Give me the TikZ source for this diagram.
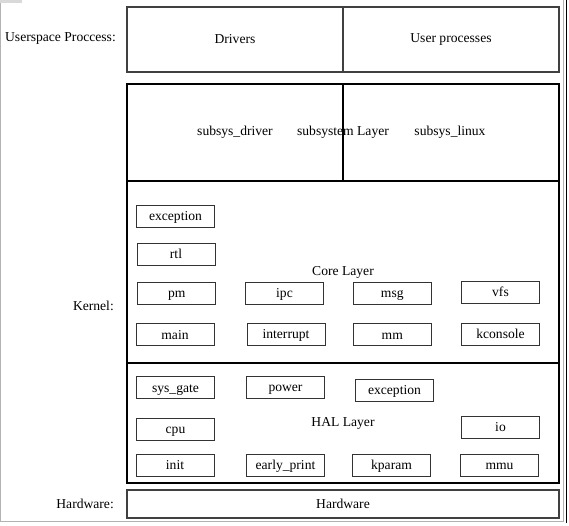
\documentclass[tikz,border=0pt]{standalone}
\usepackage{fontspec}
\setmainfont{Liberation Serif}
\usepackage{xcolor}

\begin{document}
\begin{tikzpicture}[x=1pt,y=-1pt]
			\tikzstyle{caption} = [inner sep=0pt, anchor=east]
			\tikzstyle{layer} = [draw=black, line width=1.6pt, minimum width=432pt, inner sep=0pt]
			\tikzstyle{userbox} = [draw=black!75, line width=1.2pt, minimum width=216pt, minimum height=65pt, inner sep=0pt]
			\tikzstyle{module} = [draw=black!80, line width=1pt, minimum width=78pt, minimum height=22pt, inner sep=0pt, text height=9pt, text depth=0.2pt]
			\tikzset{every node/.style = {font=\fontsize{13.6}{16}\selectfont}}
			
			\useasboundingbox (0,0) rectangle (569,525);
			
			% frame
			\fill[black!15] (0,0) rectangle (22,3);
			\draw[black!30, line width=1pt] (0.75,3) -- (0.75,521) -- (563,521) -- (563,0);
			\draw[black, line width=1.2pt] (566.5,0) -- (566.5,523);
			
			% captions
			\node[caption](userlabel) at (116,38) {Userspace Proccess:};
			\node[caption](kernellabel) at (114,306) {Kernel:};
			\node[caption](hwlabel) at (114,504) {Hardware:};
			
			% userspace
			\node[userbox](drivers) at (235,39.5) {Drivers};
			\node[userbox](userproc) at (451,39.5) {User processes};
			
			% kernel layers
			\node[layer, minimum height=97pt](subsys) at (343,132.5) {subsystem Layer};
			\draw[black, line width=1.6pt](subsys.north) -- (subsys.south);
			\node(subsysdrv) at (235,132) {subsys\_driver};
			\node(subsyslinux) at (450,132) {subsys\_linux};
			
			\node[layer, minimum height=182pt](core) at (343,272) {Core Layer};
			\node[module](exception) at (175.5,216.3) {exception};
			\node[module](rtl) at (176,254) {rtl};
			\node[module](pm) at (176.7,293) {pm};
			\node[module](ipc) at (284.5,293) {ipc};
			\node[module](msg) at (392.3,293) {msg};
			\node[module](vfs) at (500.5,292) {vfs};
			\node[module](main) at (175,334.7) {main};
			\node[module](interrupt) at (286,334) {interrupt};
			\node[module](mm) at (392.3,334.7) {mm};
			\node[module](kconsole) at (500.5,334) {kconsole};
			
			\node[layer, minimum height=120pt](hal) at (343,423) {HAL Layer};
			\node[module](sysgate) at (175.5,387.7) {sys\_gate};
			\node[module](power) at (285.5,387) {power};
			\node[module](halexception) at (394.5,390.5) {exception};
			\node[module](cpu) at (175.5,429) {cpu};
			\node[module](io) at (500.5,427.3) {io};
			\node[module](init) at (175,465.5) {init};
			\node[module](earlyprint) at (285.5,465.5) {early\_print};
			\node[module](kparam) at (391.5,465.5) {kparam};
			\node[module](mmu) at (499.5,465.5) {mmu};
			
			% hardware
			\node[userbox, minimum width=432pt, minimum height=28pt](hardware) at (343,504) {Hardware};
			
			\end{tikzpicture}
\end{document}
